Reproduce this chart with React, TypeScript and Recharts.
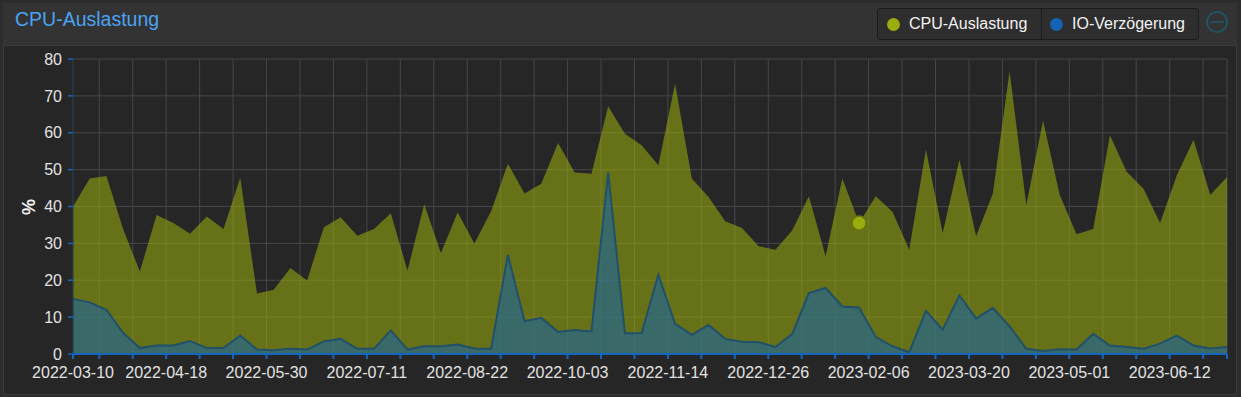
import { AreaChart, Area, XAxis, YAxis, CartesianGrid, ReferenceDot } from "recharts";

const startDate = "2022-03-10";

// weekly samples, percent
const cpuValues = [
  40.0, 47.6, 48.3, 33.8, 22.4, 37.7, 35.5, 32.6, 37.3, 33.9,
  47.8, 16.4, 17.4, 23.3, 19.9, 34.4, 37.1, 32.1, 33.9, 38.2,
  22.6, 40.6, 27.4, 38.4, 30.0, 38.7, 51.6, 43.5, 46.2, 57.2,
  49.2, 48.9, 67.2, 59.7, 56.6, 51.2, 73.3, 47.6, 42.6, 36.0,
  34.2, 29.2, 28.3, 33.5, 42.8, 26.5, 47.6, 35.5, 42.8, 38.6,
  28.3, 55.4, 32.8, 52.7, 31.9, 43.5, 76.7, 40.4, 63.3, 43.1,
  32.5, 33.9, 59.3, 49.4, 44.9, 35.5, 48.5, 58.1, 43.1, 48.0,
];

const ioValues = [
  14.9, 14.0, 12.0, 5.7, 1.6, 2.3, 2.3, 3.5, 1.6, 1.6,
  5.0, 1.2, 1.0, 1.4, 1.2, 3.4, 4.1, 1.4, 1.4, 6.4,
  1.2, 2.1, 2.1, 2.6, 1.5, 1.4, 26.9, 8.9, 9.8, 6.0,
  6.5, 6.1, 49.2, 5.6, 5.7, 21.5, 8.2, 5.2, 7.9, 4.1,
  3.3, 3.2, 1.9, 5.4, 16.5, 17.9, 12.9, 12.6, 4.6, 2.1,
  0.5, 11.7, 6.6, 15.9, 9.6, 12.5, 7.5, 1.4, 0.8, 1.3,
  1.2, 5.5, 2.3, 1.9, 1.4, 2.8, 5.0, 2.3, 1.5, 1.9,
];

const xTickLabels = [
  "2022-03-10", "2022-04-18", "2022-05-30", "2022-07-11", "2022-08-22", "2022-10-03",
  "2022-11-14", "2022-12-26", "2023-02-06", "2023-03-20", "2023-05-01", "2023-06-12",
];

const yTicks = [0, 10, 20, 30, 40, 50, 60, 70, 80];

const hoverIndex = 47;

const DAY = 86400000;
const dayOf = (s: string) => Math.round((Date.parse(s) - Date.parse(startDate)) / DAY);

const data = cpuValues.map((cpu, i) => ({ day: i * 7, cpu, io: ioValues[i] }));
const lastDay = data[data.length - 1].day;

// grid every two weeks, aligned to the labelled dates
const labelByDay = new Map(xTickLabels.map((l) => [dayOf(l), l]));
const anchor = dayOf(xTickLabels[1]);
const xTicks: number[] = [0];
for (let d = anchor - 14 * Math.floor(anchor / 14); d < lastDay; d += 14) {
  if (d > 0) xTicks.push(d);
}
xTicks.push(lastDay);

const cpuColor = "#9aad0e";
const ioColor = "#1464b4";
const font = "'Liberation Sans', Arial, sans-serif";

export default function App() {
  return (
    <div
      style={{
        position: "relative",
        width: 1241,
        height: 397,
        background: "#2c2c2c",
        fontFamily: font,
        overflow: "hidden",
      }}
    >
      <style>{`body{margin:0}`}</style>

      {/* header */}
      <div
        style={{
          position: "absolute",
          left: 3,
          top: 3,
          width: 1234,
          height: 42,
          background: "#333333",
        }}
      />
      <div
        style={{
          position: "absolute",
          left: 15,
          top: 8,
          fontSize: 19.5,
          color: "#4aa3f3",
        }}
      >
        CPU-Auslastung
      </div>

      {/* legend */}
      <div
        style={{
          position: "absolute",
          left: 877,
          top: 8,
          width: 320,
          height: 30,
          border: "1px solid #1c1c1c",
          borderRadius: 3,
          background: "#2e2e2e",
          display: "flex",
          fontSize: 16,
          color: "#f2f2f2",
        }}
      >
        <div style={{ width: 163, display: "flex", alignItems: "center", borderRight: "1px solid #1c1c1c" }}>
          <span style={{ width: 13, height: 13, borderRadius: 7, background: cpuColor, marginLeft: 9, marginRight: 9 }} />
          CPU-Auslastung
        </div>
        <div style={{ flex: 1, display: "flex", alignItems: "center" }}>
          <span style={{ width: 13, height: 13, borderRadius: 7, background: ioColor, marginLeft: 8, marginRight: 9 }} />
          IO-Verzögerung
        </div>
      </div>
      <svg style={{ position: "absolute", left: 1205, top: 10 }} width={24} height={24}>
        <circle cx={12} cy={12} r={10} fill="none" stroke="#1d5a70" strokeWidth={1.5} />
        <line x1={5} y1={12} x2={19} y2={12} stroke="#1d5a70" strokeWidth={1.5} />
      </svg>

      {/* body */}
      <div
        style={{
          position: "absolute",
          left: 3,
          top: 45,
          width: 1232,
          height: 348,
          background: "#262626",
          border: "1px solid #3a3a3a",
        }}
      />

      <div
        style={{
          position: "absolute",
          left: 19,
          top: 207,
          transform: "translate(-50%, -50%) rotate(-90deg)",
          marginLeft: 10,
          fontSize: 18,
          fontWeight: "bold",
          color: "#f0f0f0",
        }}
      >
        %
      </div>

      <div style={{ position: "absolute", left: 0, top: 45 }}>
        <AreaChart
          width={1241}
          height={352}
          data={data}
          margin={{ top: 14, right: 14, left: 8, bottom: 13 }}
        >
          <CartesianGrid stroke="#474747" strokeWidth={1} />
          <XAxis
            dataKey="day"
            type="number"
            domain={[0, lastDay]}
            ticks={xTicks}
            interval={0}
            height={30}
            tickSize={5}
            tickMargin={8}
            axisLine={{ stroke: "#1565c0", strokeWidth: 2 }}
            tickLine={{ stroke: "#1565c0", strokeWidth: 2 }}
            tick={{ fill: "#e2e2e2", fontSize: 16, fontFamily: font }}
            tickFormatter={(d: number) => labelByDay.get(d) ?? ""}
          />
          <YAxis
            width={65}
            domain={[0, 80]}
            ticks={yTicks}
            interval={0}
            tickSize={5}
            tickMargin={6}
            axisLine={{ stroke: "#17324d" }}
            tickLine={{ stroke: "#1565c0", strokeWidth: 1.5 }}
            tick={{ fill: "#e2e2e2", fontSize: 16, fontFamily: font }}
          />
          <Area
            type="linear"
            dataKey="cpu"
            stroke="none"
            fill={cpuColor}
            fillOpacity={0.56}
            isAnimationActive={false}
            activeDot={false}
          />
          <Area
            type="linear"
            dataKey="io"
            stroke="#21506a"
            strokeWidth={2}
            fill="#1a64a0"
            fillOpacity={0.6}
            isAnimationActive={false}
            activeDot={false}
          />
          <ReferenceDot
            x={data[hoverIndex].day}
            y={data[hoverIndex].cpu}
            r={7}
            fill={cpuColor}
            stroke="#6a7810"
            strokeWidth={1.5}
          />
        </AreaChart>
      </div>
    </div>
  );
}
